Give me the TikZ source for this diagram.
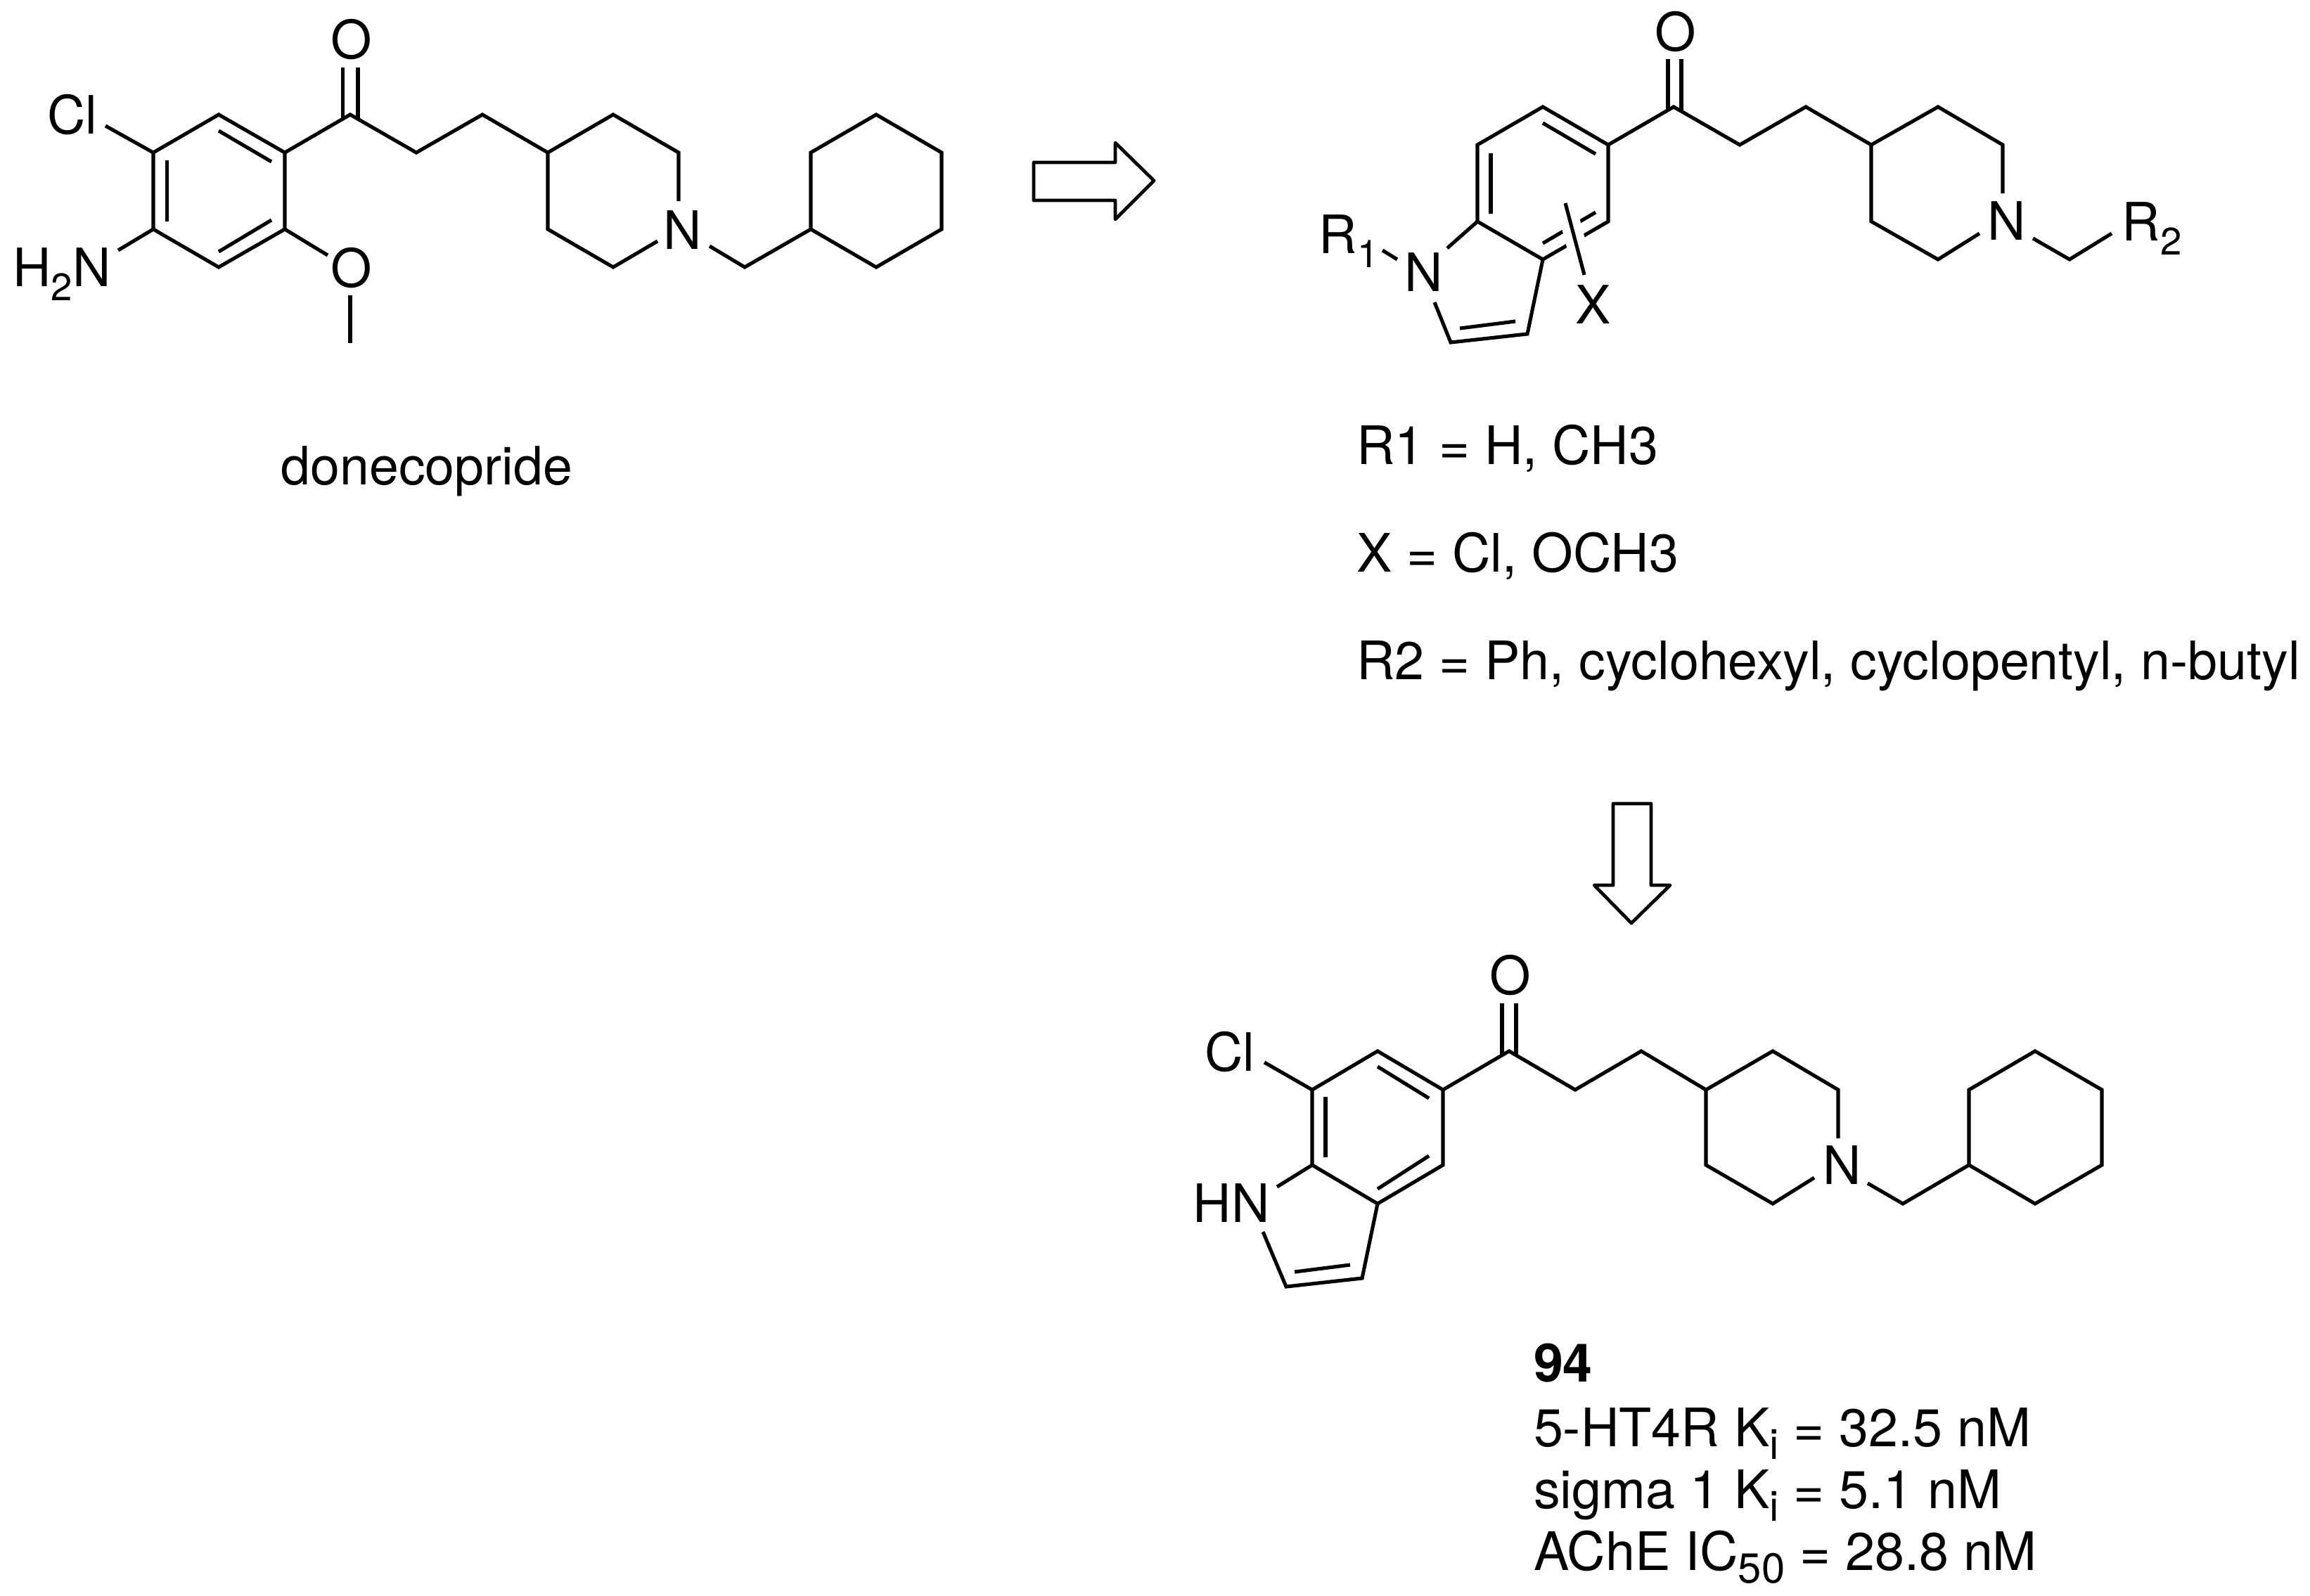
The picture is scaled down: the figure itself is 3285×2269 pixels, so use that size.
\documentclass[tikz,border=0pt]{standalone}
\usepackage{fontspec}
\setmainfont{TeX Gyre Heros}
\newcommand{\lowsub}[1]{\raisebox{-0.27em}{\fontsize{15.5}{17}\selectfont #1}}
\newcommand{\textsubs}[1]{\raisebox{-0.25em}{\fontsize{17}{19}\selectfont #1}}
\tikzset{
  bond/.style={line width=1.45pt,line cap=butt,line join=miter,black},
  atom/.style={inner sep=0pt,outer sep=0pt,anchor=base,font=\fontsize{21.4}{25}\selectfont},
  txt/.style={inner sep=0pt,outer sep=0pt,anchor=base west,font=\fontsize{21.45}{25}\selectfont},
  blockarrow/.style={line width=1.35pt,draw=black,fill=white,line join=round},
  halo/.style={line width=8pt,white}
}
\begin{document}
\begin{tikzpicture}[x=0.01cm,y=-0.01cm]
\useasboundingbox (0,0) rectangle (3285,2269);
% ---------- donecopride ----------
\coordinate (a1) at (311,163); \coordinate (a2) at (405,217); \coordinate (a3) at (405,326);
\coordinate (a4) at (311,380); \coordinate (a5) at (218,326); \coordinate (a6) at (218,217);
\coordinate (ac) at (498,163); \coordinate (ad) at (592,217); \coordinate (ae) at (686,163);
\coordinate (p1) at (779,217); \coordinate (p2) at (872,163); \coordinate (p3) at (965,217);
\coordinate (p3e) at (965,286); \coordinate (pn1) at (935,343); \coordinate (p5) at (872,380);
\coordinate (p6) at (779,326); \coordinate (pn2) at (1009,350); \coordinate (am) at (1059,380);
\coordinate (c1) at (1153,326); \coordinate (c2) at (1153,217); \coordinate (c3) at (1246,163);
\coordinate (c4) at (1339,217); \coordinate (c5) at (1339,326); \coordinate (c6) at (1246,380);
\coordinate (ai1s) at (311,186); \coordinate (ai1e) at (386,230);
\coordinate (ai2s) at (237.5,228); \coordinate (ai2e) at (237.5,315);
\coordinate (ai3s) at (386,313); \coordinate (ai3e) at (311,358);
\coordinate (ao1s) at (487.5,96); \coordinate (ao1e) at (487.5,169);
\coordinate (ao2s) at (509,96); \coordinate (ao2e) at (509,169);
\coordinate (acl) at (150,179); \coordinate (anh) at (168,356);
\coordinate (aoe) at (466,363); \coordinate (ams) at (498,420); \coordinate (ame) at (498,488);
\draw[bond] (a1)--(a2)--(a3)--(a4)--(a5)--(a6)--cycle;
\draw[bond] (ai1s)--(ai1e); \draw[bond] (ai2s)--(ai2e); \draw[bond] (ai3s)--(ai3e);
\draw[bond] (a2)--(ac)--(ad)--(ae)--(p1)--(p2)--(p3)--(p3e);
\draw[bond] (pn1)--(p5)--(p6)--(p1);
\draw[bond] (pn2)--(am)--(c1);
\draw[bond] (c1)--(c2)--(c3)--(c4)--(c5)--(c6)--cycle;
\draw[bond] (ao1s)--(ao1e); \draw[bond] (ao2s)--(ao2e);
\draw[bond] (a6)--(acl); \draw[bond] (a5)--(anh); \draw[bond] (a3)--(aoe); \draw[bond] (ams)--(ame);
\node[atom] (aO) at (500,83) {O};
\node[atom] (aCl) at (103,190) {Cl};
\node[atom] (aNH) at (88,407) {H\lowsub{2}N};
\node[atom] (aOm) at (500,408) {O};
\node[atom] (aN) at (971,354) {N};
\node[atom] (dname) at (607,689) {donecopride};
% ---------- arrows ----------
\draw[blockarrow] (1470,231)--(1586,231)--(1586,203)--(1641,257)--(1586,312)--(1586,285)--(1470,285)--cycle;
\draw[blockarrow] (2294,1143)--(2294,1259)--(2267,1259)--(2320,1313)--(2375,1259)--(2348,1259)--(2348,1143)--cycle;
% ---------- general structure ----------
\coordinate (b1) at (2194,152); \coordinate (b2) at (2287,206); \coordinate (b3) at (2287,315);
\coordinate (b4) at (2194,369); \coordinate (b5) at (2101,315); \coordinate (b6) at (2101,206);
\coordinate (bc) at (2380,152); \coordinate (bd) at (2474,206); \coordinate (be) at (2568,152);
\coordinate (q1) at (2661,206); \coordinate (q2) at (2756,152); \coordinate (q3) at (2848,206);
\coordinate (q3e) at (2848,275); \coordinate (qn1) at (2815,332); \coordinate (q5) at (2756,369);
\coordinate (q6) at (2661,315); \coordinate (qn2) at (2891,339); \coordinate (bm) at (2943,369);
\coordinate (br) at (3003,332);
\coordinate (bi1s) at (2194,175); \coordinate (bi1e) at (2269,219);
\coordinate (bi2s) at (2120,218); \coordinate (bi2e) at (2120,304);
\coordinate (bi3s) at (2269,302); \coordinate (bi3e) at (2194,346);
\coordinate (bo1s) at (2372,84); \coordinate (bo1e) at (2372,157);
\coordinate (bo2s) at (2391,84); \coordinate (bo2e) at (2391,157);
\coordinate (bns) at (2058,353); \coordinate (brs) at (1966,356); \coordinate (bre) at (1987,369);
\coordinate (bp1) at (2040,430); \coordinate (bp2) at (2063,487); \coordinate (bp3) at (2172,475);
\coordinate (bpis) at (2076,467); \coordinate (bpie) at (2155,457);
\coordinate (bxs) at (2226,289); \coordinate (bxe) at (2253,391);
\draw[bond] (b1)--(b2)--(b3)--(b4)--(b5)--(b6)--cycle;
\draw[bond] (bi1s)--(bi1e); \draw[bond] (bi2s)--(bi2e); \draw[bond] (bi3s)--(bi3e);
\draw[bond] (b2)--(bc)--(bd)--(be)--(q1)--(q2)--(q3)--(q3e);
\draw[bond] (qn1)--(q5)--(q6)--(q1);
\draw[bond] (qn2)--(bm)--(br);
\draw[bond] (bo1s)--(bo1e); \draw[bond] (bo2s)--(bo2e);
\draw[bond] (b5)--(bns); \draw[bond] (brs)--(bre);
\draw[bond] (bp1)--(bp2)--(bp3)--(b4); \draw[bond] (bpis)--(bpie);
\draw[halo] (bxs)--(bxe);
\draw[bond] (bxs)--(bxe);
\node[atom] (bO) at (2383,72) {O};
\node[atom] (bR1) at (1918,360) {R\lowsub{1}};
\node[atom] (bN) at (2025,414) {N};
\node[atom] (bX) at (2266,460) {X};
\node[atom] (bNr) at (2854,341) {N};
\node[atom] (bR2) at (3060,342) {R\lowsub{2}};
\node[txt] (t1) at (1929,660) {R1 = H, CH3};
\node[txt] (t2) at (1929,813) {X = Cl, OCH3};
\node[txt] (t3) at (1929,966) {R2 = Ph, cyclohexyl, cyclopentyl, n-butyl};
% ---------- compound 94 ----------
\coordinate (g1) at (1959,1495); \coordinate (g2) at (2052,1550); \coordinate (g3) at (2052,1657);
\coordinate (g4) at (1959,1712); \coordinate (g5) at (1866,1657); \coordinate (g6) at (1866,1550);
\coordinate (gc) at (2146,1495); \coordinate (gd) at (2240,1550); \coordinate (ge) at (2334,1495);
\coordinate (r1) at (2426,1550); \coordinate (r2) at (2521,1495); \coordinate (r3) at (2614,1550);
\coordinate (r3e) at (2614,1619); \coordinate (rn1) at (2580,1675); \coordinate (r5) at (2521,1712);
\coordinate (r6) at (2426,1657); \coordinate (rn2) at (2656,1683); \coordinate (gm) at (2706,1712);
\coordinate (d1) at (2800,1657); \coordinate (d2) at (2800,1550); \coordinate (d3) at (2894,1495);
\coordinate (d4) at (2989,1550); \coordinate (d5) at (2989,1657); \coordinate (d6) at (2894,1712);
\coordinate (gi1s) at (1959,1517); \coordinate (gi1e) at (2032,1562);
\coordinate (gi2s) at (1885,1560); \coordinate (gi2e) at (1885,1646);
\coordinate (gi3s) at (2032,1644); \coordinate (gi3e) at (1959,1691);
\coordinate (go1s) at (2136,1427); \coordinate (go1e) at (2136,1501);
\coordinate (go2s) at (2156,1427); \coordinate (go2e) at (2156,1501);
\coordinate (gcl) at (1798,1511); \coordinate (ghn) at (1816,1688);
\coordinate (gp1) at (1796,1752); \coordinate (gp2) at (1829,1830); \coordinate (gp3) at (1937,1818);
\coordinate (gpis) at (1841,1809); \coordinate (gpie) at (1920,1799);
\draw[bond] (g1)--(g2)--(g3)--(g4)--(g5)--(g6)--cycle;
\draw[bond] (gi1s)--(gi1e); \draw[bond] (gi2s)--(gi2e); \draw[bond] (gi3s)--(gi3e);
\draw[bond] (g2)--(gc)--(gd)--(ge)--(r1)--(r2)--(r3)--(r3e);
\draw[bond] (rn1)--(r5)--(r6)--(r1);
\draw[bond] (rn2)--(gm)--(d1);
\draw[bond] (d1)--(d2)--(d3)--(d4)--(d5)--(d6)--cycle;
\draw[bond] (go1s)--(go1e); \draw[bond] (go2s)--(go2e);
\draw[bond] (g6)--(gcl); \draw[bond] (g5)--(ghn);
\draw[bond] (gp1)--(gp2)--(gp3)--(g4); \draw[bond] (gpis)--(gpie);
\node[atom] (gO) at (2148,1414) {O};
\node[atom] (gCl) at (1749,1523) {Cl};
\node[atom] (gHN) at (1751,1738) {HN};
\node[atom] (gN) at (2620,1684) {N};
\node[txt] (l1) at (2181,1965) {\textbf{94}};
\node[txt] (l2) at (2181,2057) {5-HT4R K\textsubs{i} = 32.5 nM};
\node[txt] (l3) at (2181,2145) {sigma 1 K\textsubs{i} = 5.1 nM};
\node[txt] (l4) at (2181,2233) {AChE IC\textsubs{50} = 28.8 nM};
\end{tikzpicture}
\end{document}
